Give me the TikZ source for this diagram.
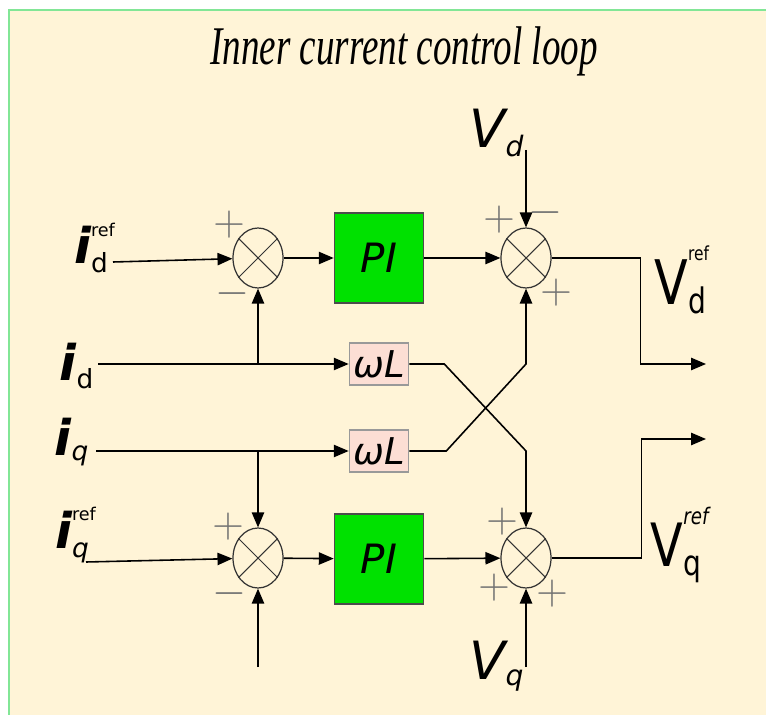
\documentclass[tikz,border=0pt]{standalone}
\usepackage{fontspec}
\usepackage{amsmath}
\setmainfont{Liberation Serif}
\newfontfamily\labelfont{DejaVu Sans}
\usetikzlibrary{shapes.geometric,arrows.meta}
\definecolor{paper}{RGB}{255,244,215}
\definecolor{frame}{RGB}{130,230,150}
\definecolor{pigreen}{RGB}{0,225,0}
\definecolor{wlpink}{RGB}{252,222,212}
\tikzset{
  sumnode/.style={draw=black!80, line width=0.7pt, ellipse, minimum width=1cm, minimum height=1.2cm, inner sep=0pt},
  piblock/.style={draw=black!70, fill=pigreen, minimum width=1.78cm, minimum height=1.8cm, inner sep=0pt, font=\labelfont\itshape\fontsize{23}{26}\selectfont},
  wlblock/.style={draw=black!40, fill=wlpink, minimum width=1.18cm, minimum height=0.84cm, inner sep=0pt, font=\labelfont\itshape\fontsize{21}{24}\selectfont},
  sign/.style={text=black!55, inner sep=0pt, font=\fontsize{27}{27}\selectfont},
  siglabel/.style={inner sep=0pt, font=\labelfont\fontsize{22}{24}\selectfont},
}
\begin{document}
\begin{tikzpicture}[x=0.02cm, y=-0.02cm, line width=0.9pt, >={Triangle[length=8.5pt,width=7pt]}]
\useasboundingbox (0,0) rectangle (766,715);
\fill[white] (0,0) rectangle (766,715);
\filldraw[fill=paper, draw=frame, line width=1.2pt] (9,10) rectangle (780,730);
\node[xscale=0.68, font=\itshape\fontsize{31}{34}\selectfont] (title) at (404,51) {Inner current control loop};

% blocks
\node[sumnode] (sd1) at (258,258) {};
\node[piblock] (pid) at (379,258) {PI};
\node[sumnode] (sd2) at (526,258) {};
\node[wlblock] (wld) at (379,364) {ωL};
\node[wlblock] (wlq) at (379,451) {ωL};
\node[sumnode] (sq1) at (258,558) {};
\node[piblock] (piq) at (379,559) {PI};
\node[sumnode] (sq2) at (526,558) {};
\foreach \s in {sd1,sd2,sq1,sq2}
  \draw[line width=0.6pt, black!80] (\s.45) -- (\s.225) (\s.135) -- (\s.315);

% signals
\node[siglabel] (idref) at (95,248) {$\text{\bfseries\itshape\fontsize{28}{30}\selectfont i}_{\text{\fontsize{15}{15}\selectfont d}}^{\text{\fontsize{10}{10}\selectfont ref}}$};
\node[siglabel] (id) at (77,366) {$\text{\bfseries\itshape\fontsize{28}{30}\selectfont i}_{\text{\fontsize{15}{15}\selectfont d}}$};
\node[siglabel] (iq) at (72,442) {$\text{\bfseries\itshape\fontsize{28}{30}\selectfont i}_{\text{\fontsize{15}{15}\selectfont\itshape q}}$};
\node[siglabel] (iqref) at (76,535) {$\text{\bfseries\itshape\fontsize{28}{30}\selectfont i}_{\text{\fontsize{15}{15}\selectfont\itshape q}}^{\text{\fontsize{10}{10}\selectfont ref}}$};
\node[siglabel] (vd) at (497,133) {$\text{\itshape\fontsize{30}{32}\selectfont V}_{\text{\itshape\fontsize{16}{16}\selectfont d}}$};
\node[siglabel] (vq) at (497,666) {$\text{\itshape\fontsize{30}{32}\selectfont V}_{\text{\itshape\fontsize{16}{16}\selectfont q}}$};
\node[siglabel, xscale=0.8] (vdref) at (682,280) {$\text{\fontsize{35}{36}\selectfont V}_{\text{\fontsize{20}{20}\selectfont d}}^{\text{\fontsize{11}{11}\selectfont\raisebox{0.5em}{ref}}}$};
\node[siglabel, xscale=0.8] (vqref) at (680,545) {$\text{\fontsize{34}{36}\selectfont V}_{\text{\fontsize{20}{20}\selectfont q}}^{\text{\itshape\fontsize{13}{13}\selectfont\raisebox{0.4em}{ref}}}$};

% signs
\node[sign] (sd1p) at (229,225) {$+$};
\node[sign] (sd1m) at (232,294) {$-$};
\node[sign] (sd2p) at (499,220) {$+$};
\node[sign] (sd2m) at (545,213) {$-$};
\node[sign] (sd2b) at (556,293) {$+$};
\node[sign] (sq1p) at (228,527) {$+$};
\node[sign] (sq1m) at (229,594) {$-$};
\node[sign] (sq2p) at (502,522) {$+$};
\node[sign] (sq2l) at (494,588) {$+$};
\node[sign] (sq2b) at (552,594) {$+$};

\coordinate (idrefst) at (113,262);
\coordinate (idst) at (98,364);
\coordinate (iqst) at (96,451);
\coordinate (iqrefst) at (86,562);
\coordinate (qfbst) at (258,667);
\coordinate (vdst) at (526,150);
\coordinate (vqst) at (526,667);
\coordinate (vdout) at (706,364);
\coordinate (vqout) at (706,439);

% d axis
\draw[->] (idrefst) -- (sd1);
\draw[->] (sd1) -- (pid);
\draw[->] (pid) -- (sd2);
\draw[->] (vdst) -- (sd2);
\draw[->] (idst) -- (wld);
\draw[->] (sd1 |- idst) -- (sd1);
\draw[->] (sd2.east) -- ++(89,0) |- (vdout);

% q axis
\draw[->] (iqst) -- (wlq);
\draw[->] (sq1 |- iqst) -- (sq1);
\draw[->] (iqrefst) -- (sq1);
\draw[->] (qfbst) -- (sq1);
\draw[->] (sq1) -- (piq);
\draw[->] (piq) -- (sq2);
\draw[->] (vqst) -- (sq2);
\draw[->] (sq2.east) -- ++(90,0) |- (vqout);

% cross coupling
\draw[->] (wld.east) -- ++(35,0) -- (sq2 |- wlq) -- (sq2);
\draw[->] (wlq.east) -- ++(37,0) -- (sd2 |- wld) -- (sd2);
\end{tikzpicture}
\end{document}
